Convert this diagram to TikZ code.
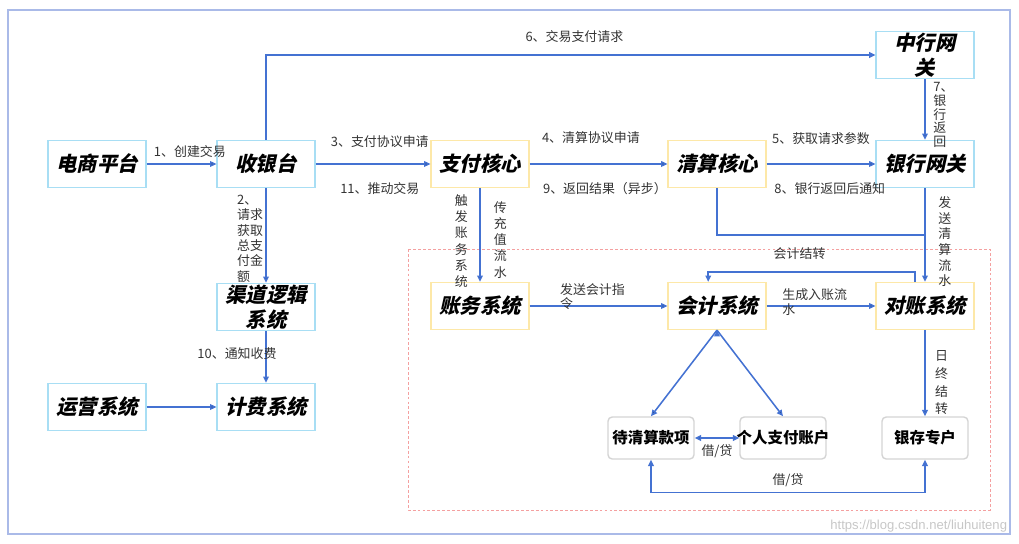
\documentclass[tikz,border=0pt]{standalone}
\usepackage{fontspec}
\usepackage{xcolor}
\usepackage{tikz}
\usetikzlibrary{arrows.meta, positioning, calc}
\newfontfamily\cjk{Noto Sans CJK SC}
\newfontfamily\cjkxie{Noto Sans CJK SC}[FakeSlant=0.22]
\newfontfamily\wmfont{Liberation Sans}
\definecolor{xianlan}{RGB}{68,114,210}
\definecolor{kuanglan}{RGB}{168,222,244}
\definecolor{kuanghuang}{RGB}{253,232,168}
\definecolor{kuanghui}{RGB}{212,212,212}
\definecolor{hongxu}{RGB}{244,160,160}
\definecolor{waikuang}{RGB}{170,186,232}

\begin{document}
\begin{tikzpicture}[node distance=2cm, on grid, auto,
    >={Triangle[length=4.5pt,width=4pt]},
    xitong/.style={draw=kuanglan, line width=0.8pt, minimum width=2.45cm, minimum height=1.18cm,
        inner sep=0pt, align=center, font=\cjkxie\bfseries\fontsize{14.5}{17.5}\selectfont},
    hexin/.style={xitong, draw=kuanghuang},
    zhanghu/.style={draw=kuanghui, line width=1pt, rounded corners=3pt, minimum width=2.15cm,
        minimum height=1.05cm, inner sep=0pt, font=\cjk\bfseries\fontsize{11}{13}\selectfont},
    liu/.style={->, draw=xianlan, line width=1.1pt},
    culiu/.style={liu, line width=1.9pt},
    biao/.style={font=\cjk\fontsize{9.2}{10.3}\selectfont, text=black!80, inner sep=1pt, align=center},
    shu/.style={biao, align=left, font=\cjk\fontsize{9.2}{#1}\selectfont},
    shu/.default=11.3]

    \useasboundingbox (0,0) rectangle (25.475,-13.6);
    \draw[waikuang, line width=0.8pt] (0.2,-0.25) rectangle (25.25,-13.35);
    \draw[hongxu, dash pattern=on 2pt off 1.5pt, line width=0.5pt] (10.2,-6.225) rectangle (24.75,-12.75);

    \node[xitong] (dianshang) at (2.425,-4.1) {电商平台};
    \node[xitong] (shouyin) [right=4.225cm of dianshang] {收银台};
    \node[hexin] (zhifu) [right=5.35cm of shouyin] {支付核心};
    \node[hexin] (qingsuan) [right=5.925cm of zhifu] {清算核心};
    \node[xitong] (yinhang) [right=5.2cm of qingsuan] {银行网关};
    \node[xitong] (zhonghang) [above=2.725cm of yinhang] {中行网\\关};
    \node[xitong] (qudao) [below=3.575cm of shouyin] {渠道逻辑\\系统};
    \node[xitong] (jifei) [below=2.5cm of qudao] {计费系统};
    \node[xitong] (yunying) [left=4.225cm of jifei] {运营系统};
    \node[hexin] (zhangwu) [below=3.55cm of zhifu] {账务系统};
    \node[hexin] (kuaiji) [below=3.55cm of qingsuan] {会计系统};
    \node[hexin] (duizhang) [below=3.55cm of yinhang] {对账系统};
    \node[zhanghu] (daiqing) [below left=3.3cm and 1.65cm of kuaiji] {待清算款项};
    \node[zhanghu] (geren) [below right=3.3cm and 1.65cm of kuaiji] {\makebox[2.1cm]{个人支付账户}};
    \node[zhanghu] (yincun) [below=3.3cm of duizhang] {银存专户};
    \coordinate (huihe) at ($(yinhang.south)!0.5!(duizhang.north)$);

    \draw[culiu] (shouyin) |- node[biao, pos=0.753, above=0.25cm] {6、交易支付请求} (zhonghang);

    \path[liu]
    (dianshang) edge node[biao, above=0.1cm, xshift=0.21cm] {1、创建交易} (shouyin)
    (shouyin) edge node[biao, above=0.35cm, xshift=0.17cm] {3、支付协议申请}
                   node[biao, below=0.42cm, xshift=0.17cm] {11、推动交易} (zhifu)
              edge node[shu=10.9, left=0.02cm, yshift=-0.08cm] {2、\\请求\\获取\\总支\\付金\\额} (qudao)
    (zhifu) edge node[biao, above=0.45cm, xshift=-0.19cm] {4、清算协议申请}
                 node[biao, below=0.4cm, xshift=0.16cm] {9、返回结果（异步）} (qingsuan)
            edge node[shu=11.6, left=0.25cm, yshift=-0.15cm] {触\\发\\账\\务\\系\\统}
                 node[shu=11.5, right=0.29cm, yshift=-0.12cm] {传\\充\\值\\流\\水} (zhangwu)
    (qingsuan) edge node[biao, above=0.42cm] {5、获取请求参数}
                    node[biao, below=0.42cm, xshift=0.22cm] {8、银行返回后通知} (yinhang)
    (zhonghang) edge[line width=1.9pt] node[shu=9.8, right=0.14cm, yshift=-0.14cm] {7、\\银\\行\\返\\回} (yinhang)
    (yinhang) edge node[shu=11.1, right=0.28cm, yshift=-0.17cm] {发\\送\\清\\算\\流\\水} (duizhang)
    (qudao) edge node[biao, anchor=center, xshift=-0.725cm, yshift=0.08cm] {10、通知收费} (jifei)
    (yunying) edge (jifei)
    (zhangwu) edge node[shu=9.9, pos=0.206, anchor=west, yshift=0.225cm] {发送会计指\\令} (kuaiji)
    (kuaiji) edge node[shu=10.6, pos=0.125, anchor=west, yshift=0.09cm] {生成入账流\\水} (duizhang)
    (kuaiji.south) edge (daiqing.north)
    (kuaiji.south) edge (geren.north)
    (duizhang) edge node[shu=12.6, right=0.2cm, yshift=-0.24cm] {日\\终\\结\\转} (yincun)
    (daiqing) edge[<->] node[biao, below=0.12cm] {借/贷} (geren);

    \draw[draw=xianlan, line width=1.1pt] (qingsuan) |- (huihe);
    \draw[liu] ([xshift=-0.25cm]duizhang.north) -- ++(0,0.25cm)
        -| node[biao, pos=0.279, above=0.25cm] {会计结转} ([xshift=-0.22cm]kuaiji.north);
    \draw[liu, <->] (daiqing.south) -- ++(0,-0.825cm)
        -| node[biao, pos=0.25, above=0.1cm] {借/贷} (yincun.south);

    \node[font=\wmfont\fontsize{9.3}{11}\selectfont, text=black!22, anchor=east] (shuiyin) at (25.3,-13.15) {https://blog.csdn.net/liuhuiteng};
\end{tikzpicture}
\end{document}
